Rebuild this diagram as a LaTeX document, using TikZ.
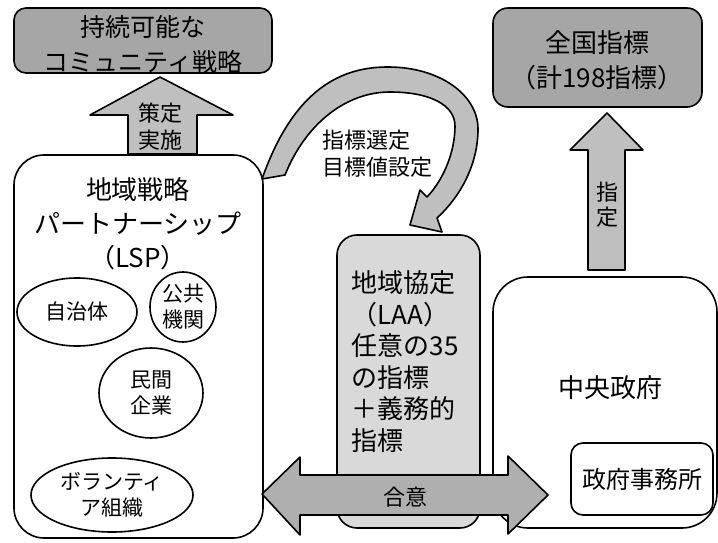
\documentclass[tikz,border=0pt]{standalone}
\usepackage{fontspec}
\setmainfont{Noto Sans CJK JP}
\usetikzlibrary{shapes.geometric}
\definecolor{darkfill}{HTML}{A6A6A6}
\definecolor{midfill}{HTML}{BFBFBF}
\definecolor{lightfill}{HTML}{D9D9D9}
\begin{document}
\begin{tikzpicture}[x=1pt,y=-1pt,line width=1.6pt,line join=round,
  box/.style={draw,rounded corners=#1,inner sep=0pt},
  oval/.style={draw,ellipse,inner sep=0pt,align=center,font=\fontsize{21}{26}\selectfont},
  bigtxt/.style={inner sep=0pt,align=center,font=\fontsize{26}{34}\selectfont},
  midtxt/.style={inner sep=0pt,align=center,font=\fontsize{22}{27}\selectfont},
  blockarrow/.style={draw,fill=midfill}]
\useasboundingbox (0,0) rectangle (718,543);

% boxes
\node[box=12pt,fill=darkfill,minimum width=258pt,minimum height=65pt] (goal) at (143,40.5) {};
\node[bigtxt,font=\fontsize{25}{35}\selectfont] (goaltxt) at (143,44.5) {持続可能な\\コミュニティ戦略};

\node[box=15pt,fill=darkfill,minimum width=209pt,minimum height=99pt] (national) at (597.5,57.5) {};
\node[bigtxt,font=\fontsize{26}{35}\selectfont] (nattxt) at (597,60.5) {全国指標\\（計198指標）};

\node[box=30pt,fill=white,minimum width=249pt,minimum height=383pt] (lsp) at (138.5,346.5) {};
\node[bigtxt] (lsptitle) at (138,224) {地域戦略\\パートナーシップ\\（LSP）};

\node[oval,minimum width=120pt,minimum height=68pt] (jichi) at (77,312) {自治体};
\node[oval,minimum width=66pt,minimum height=70pt] (kokyo) at (183,307) {公共\\機関};
\node[oval,minimum width=104pt,minimum height=90pt] (minkan) at (151,393) {民間\\企業};
\node[oval,minimum width=162pt,minimum height=74pt] (volun) at (112,495) {ボランティ\\ア組織};

\node[box=20pt,fill=lightfill,minimum width=143pt,minimum height=293pt] (laa) at (408.5,381.5) {};
\node[inner sep=0pt,align=left,anchor=north west,font=\fontsize{26}{31.5}\selectfont] (laatxt) at (351,270)
  {地域協定\\（LAA）\\任意の35\\の指標\\＋義務的\\指標};

\node[box=35pt,fill=white,minimum width=224pt,minimum height=251pt] (gov) at (605,402.5) {};
\node[bigtxt] (govtxt) at (610,388) {中央政府};
\node[box=12pt,fill=white,minimum width=142pt,minimum height=72pt,font=\fontsize{24}{28}\selectfont] (office) at (642,479) {政府事務所};

% block arrow: 策定 実施
\draw[blockarrow] (160,77) -- (233,115) -- (197,115) -- (197,154) -- (128,154) -- (128,115) -- (90,115) -- cycle;
\node[midtxt] (sakutei) at (160,127) {策定\\実施};

% block arrow: 指定
\draw[blockarrow] (607,113) -- (643,150) -- (625,150) -- (625,270) -- (588,270) -- (588,150) -- (570,150) -- cycle;
\node[midtxt,font=\fontsize{22}{25}\selectfont] (shitei) at (607,204.5) {指\\定};

% curved arrow
\draw[blockarrow] (262,179) .. controls (295,85) and (345,67) .. (388,67)
  .. controls (440,67) and (478,95) .. (478,129)
  .. controls (478,165) and (460,197) .. (437,218) -- (442,232) -- (410,225) -- (420,190) -- (427,197)
  .. controls (445,178) and (455,150) .. (455,126)
  .. controls (455,105) and (430,92) .. (390,92)
  .. controls (345,92) and (305,125) .. (285,175) -- cycle;
\node[inner sep=0pt,align=left,anchor=west,font=\fontsize{22}{27}\selectfont] (sentei) at (322,153.5) {指標選定\\目標値設定};

% double arrow: 合意
\draw[fill=darkfill!90!white] (262,494) -- (300,457) -- (300,475) -- (508,475) -- (508,456) -- (548,495) -- (508,534) -- (508,515) -- (300,515) -- (300,535) -- cycle;
\node[midtxt] (goi) at (405,497) {合意};
\end{tikzpicture}
\end{document}
